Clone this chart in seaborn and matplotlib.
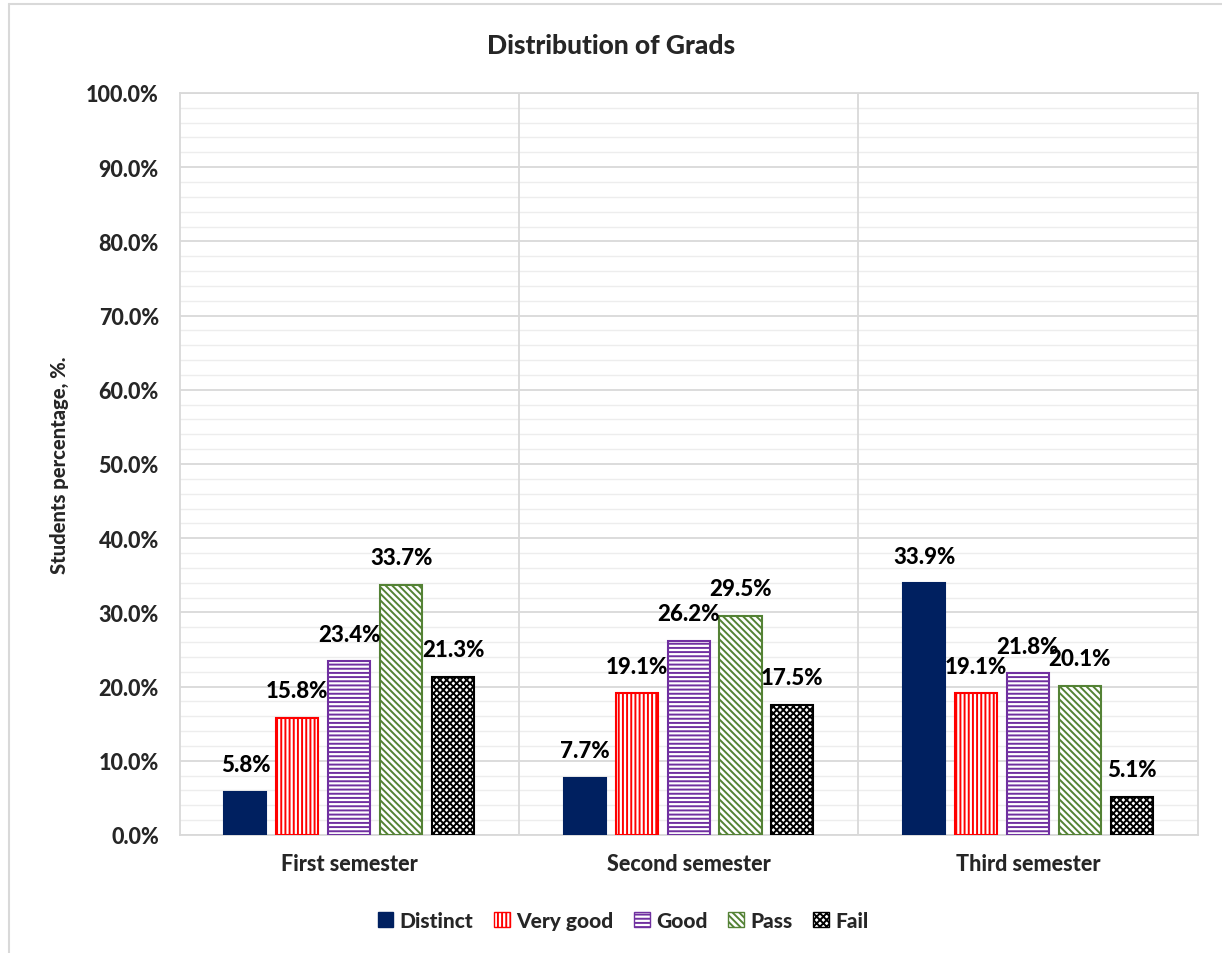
import matplotlib
matplotlib.use("Agg")
import matplotlib.pyplot as plt
import matplotlib.ticker as mticker
from matplotlib.lines import Line2D
import pandas as pd
import seaborn as sns

# ---------------------------------------------------------------------------
# Data
# ---------------------------------------------------------------------------
semesters = ["First semester", "Second semester", "Third semester"]
grades = ["Distinct", "Very good", "Good", "Pass", "Fail"]
distinct = [5.8, 7.7, 33.9]
very_good = [15.8, 19.1, 19.1]
good = [23.4, 26.2, 21.8]
passed = [33.7, 29.5, 20.1]
fail = [21.3, 17.5, 5.1]

colors = ["#002060", "#FF0000", "#7030A0", "#548235", "#000000"]
hatches = [None, "||||", "----", "\\\\\\\\\\", "xxxxx"]

rows = []
for grade, vals in zip(grades, [distinct, very_good, good, passed, fail]):
    for sem, v in zip(semesters, vals):
        rows.append({"semester": sem, "grade": grade, "value": v})
df = pd.DataFrame(rows)

# ---------------------------------------------------------------------------
# Style
# ---------------------------------------------------------------------------
sns.set_style("white")
plt.rcParams["font.family"] = ["Lato", "DejaVu Sans"]
plt.rcParams["hatch.linewidth"] = 1.4

W = 900  # heavy weight for all text

fig = plt.figure(figsize=(12.22, 9.54), dpi=100)
ax = fig.add_axes([0.147, 0.1237, 0.833, 0.7778])

sns.barplot(data=df, x="semester", y="value", hue="grade", order=semesters,
            hue_order=grades, palette=colors, width=0.765, gap=0.19,
            ax=ax, legend=False, zorder=3)

for i, cont in enumerate(ax.containers):
    for bar in cont:
        if hatches[i] is None:
            bar.set_facecolor(colors[i])
            bar.set_edgecolor(colors[i])
        else:
            bar.set_facecolor("white")
            bar.set_edgecolor(colors[i])
            bar.set_hatch(hatches[i])
        bar.set_linewidth(1.5)
        h = bar.get_height()
        ax.annotate(f"{h:.1f}%", (bar.get_x() + bar.get_width() / 2, h),
                    xytext=(0, 12), textcoords="offset points",
                    ha="center", va="bottom", fontsize=16,
                    fontweight=W, color="black")

ax.set_ylim(0, 100)
ax.set_xlim(-0.5, 2.5)
ax.yaxis.set_major_locator(mticker.MultipleLocator(10))
ax.yaxis.set_minor_locator(mticker.MultipleLocator(2))
ax.yaxis.set_major_formatter(mticker.FuncFormatter(lambda v, p: f"{v:.1f}%"))
ax.grid(axis="y", which="major", color="#D9D9D9", linewidth=1.3, zorder=0)
ax.grid(axis="y", which="minor", color="#EDEDED", linewidth=1.0, zorder=0)
for xb in [0.5, 1.5]:
    ax.axvline(xb, color="#D9D9D9", linewidth=1.3, zorder=1)
for s in ax.spines.values():
    s.set_color("#D9D9D9")
    s.set_linewidth(1.3)

ax.tick_params(axis="both", which="both", length=0, labelsize=15.5)
for lab in ax.get_yticklabels() + ax.get_xticklabels():
    lab.set_fontweight(W)
ax.tick_params(axis="x", pad=13)
ax.tick_params(axis="y", pad=15)
ax.set_xlabel("")
ax.set_ylabel("Students percentage, %.", fontsize=14.5, fontweight=W,
              labelpad=12)

fig.text(0.5, 0.952, "Distribution of Grads", ha="center", va="center",
         fontsize=19, fontweight=W)

# legend
handles = []
for c, h in zip(colors, hatches):
    if h is None:
        handles.append(plt.Rectangle((0, 0), 1, 1, facecolor=c, edgecolor=c))
    else:
        handles.append(plt.Rectangle((0, 0), 1, 1, facecolor="white",
                                     edgecolor=c, hatch=h))
leg = fig.legend(handles, grades, loc="center", bbox_to_anchor=(0.51, 0.034),
                 ncol=5, frameon=False, handlelength=0.75, handleheight=0.75,
                 handletextpad=0.3, columnspacing=1.0,
                 prop={"size": 15, "weight": W})

# chart-area frame (left and top edges)
fig.add_artist(Line2D([0.0075, 0.0075], [0.0, 0.995], color="#D9D9D9",
                      linewidth=1.5, transform=fig.transFigure))
fig.add_artist(Line2D([0.0075, 1.0], [0.995, 0.995], color="#D9D9D9",
                      linewidth=1.5, transform=fig.transFigure))

fig.savefig("out.png", dpi=100)
